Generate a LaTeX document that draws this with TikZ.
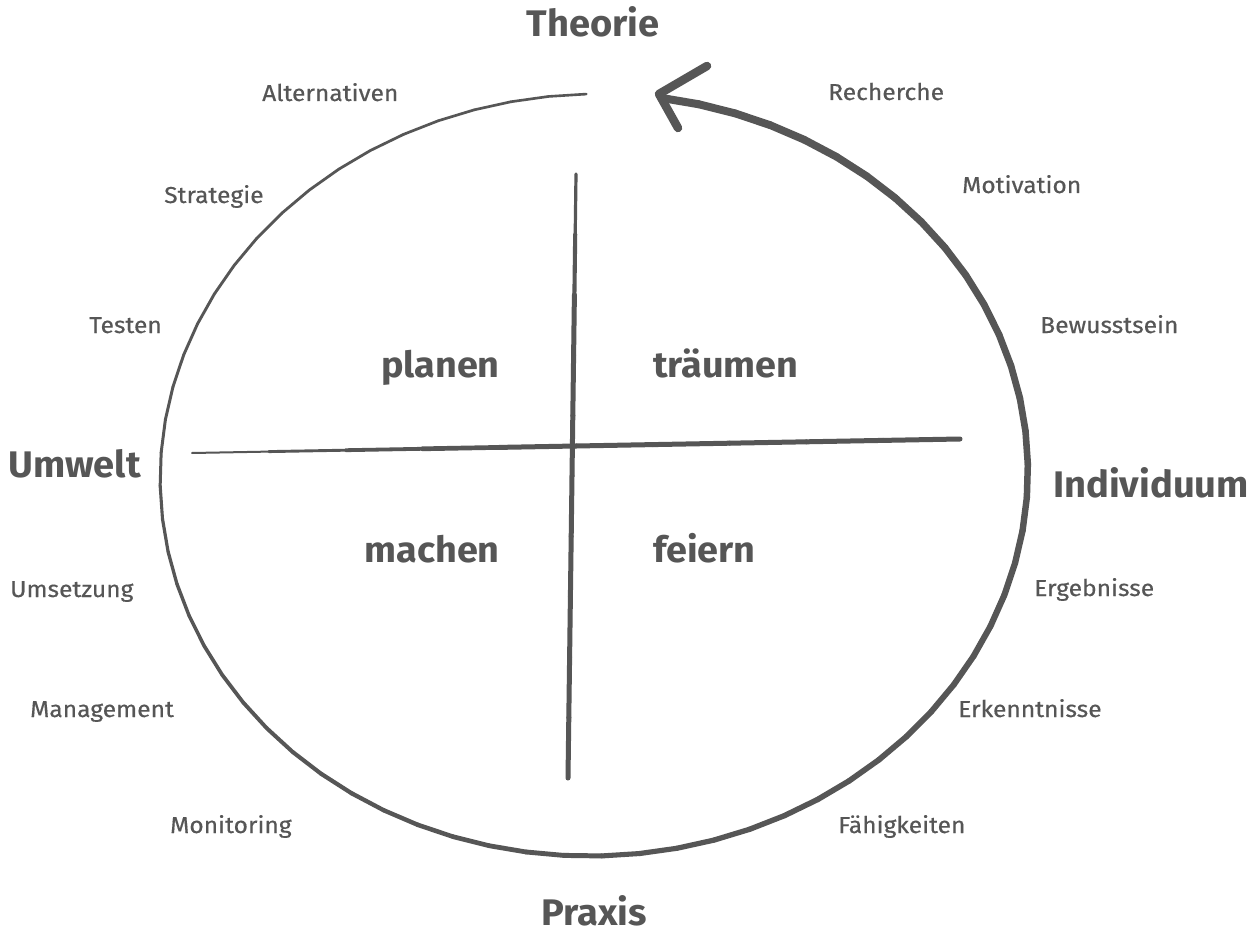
\documentclass[tikz,border=0pt]{standalone}
\usepackage{fontspec}
\setmainfont{Fira Sans}
\newfontfamily\lblfont{Fira Sans}[FakeStretch=1.07,FakeBold=0.4]
\newfontfamily\axisfont{Fira Sans}[FakeStretch=1.03]
\newfontfamily\quadfont{Fira Sans}[FakeStretch=1.05]
\usetikzlibrary{calc}
\definecolor{ink}{HTML}{565656}
\begin{document}
\begin{tikzpicture}[x=1pt,y=-1pt]
\tikzset{
  lbl/.style={text=ink, font=\lblfont\fontsize{23}{27}\selectfont, inner sep=0pt, anchor=base west},
  axislbl/.style={text=ink, font=\axisfont\bfseries\fontsize{37}{42}\selectfont, inner sep=0pt},
  quad/.style={text=ink, font=\quadfont\bfseries\fontsize{36}{42}\selectfont, inner sep=0pt},
  pen/.style={draw=ink, line cap=round, line join=round},
}
\useasboundingbox (0,0) rectangle (1260,933);
\fill[white] (0,0) rectangle (1260,933);

% hand-drawn ellipse with varying stroke width
\def\ecx{594}\def\ecy{475}\def\erx{434}\def\ery{381}\def\erot{2.3}
\foreach \t in {79,74,...,-266} {
  \pgfmathsetmacro{\u}{\t-5}
  \pgfmathsetmacro{\w}{\t>30 ? 8-(79-\t)/49 : (\t>0 ? 7-(30-\t)/60 : (\t>-90 ? 6.5-(-\t)/60 : (\t>-180 ? 5-(-90-\t)/45 : 3-(-180-\t)/227)))}
  \pgfmathsetmacro{\xa}{\ecx + \erx*cos(\t)*cos(\erot) - \ery*sin(\t)*sin(\erot)}
  \pgfmathsetmacro{\ya}{\ecy - (\erx*cos(\t)*sin(\erot) + \ery*sin(\t)*cos(\erot))}
  \pgfmathsetmacro{\xb}{\ecx + \erx*cos(\u)*cos(\erot) - \ery*sin(\u)*sin(\erot)}
  \pgfmathsetmacro{\yb}{\ecy - (\erx*cos(\u)*sin(\erot) + \ery*sin(\u)*cos(\erot))}
  \draw[pen, line width=\w pt] (\xa,\ya) -- (\xb,\yb);
}

% arrow head at the top
\coordinate (aup) at (707,66);
\coordinate (atip) at (659,94);
\coordinate (alow) at (678,128);
\draw[pen, line width=8.5pt] (aup) -- (atip) -- (alow);

% cross
\coordinate (hl) at (192,453);
\coordinate (hr) at (960,439);
\coordinate (vt) at (576,174);
\coordinate (vb) at (568,778);
\foreach \i in {0,...,9} {
  \pgfmathsetmacro{\w}{min(5,2+\i*0.9)}
  \draw[pen, line width=\w pt] ($(hl)!\i/10!(hr)$) -- ($(hl)!{(\i+1)/10}!(hr)$);
}
\foreach \i in {0,...,9} {
  \pgfmathsetmacro{\w}{min(5,3.2+\i*0.9)}
  \draw[pen, line width=\w pt] ($(vt)!\i/10!(vb)$) -- ($(vt)!{(\i+1)/10}!(vb)$);
}

% quadrant words
\node[quad, anchor=base east] (planen) at (500,377) {planen};
\node[quad, anchor=base west] (traeumen) at (653,377) {träumen};
\node[quad, anchor=base east] (machen) at (500,562) {machen};
\node[quad, anchor=base west] (feiern) at (653,562) {feiern};

% axis labels
\node[axislbl, anchor=base] (theorie) at (593,37) {Theorie};
\node[axislbl, anchor=base] (praxis) at (594,925) {Praxis};
\node[axislbl, anchor=base west] (umwelt) at (8,477) {Umwelt};
\node[axislbl, anchor=base west] (indiv) at (1053,497) {Individuum};

% small labels
\node[lbl] (alt) at (262,101) {Alternativen};
\node[lbl] (strat) at (164,203) {Strategie};
\node[lbl] (test) at (89,333) {Testen};
\node[lbl] (ums) at (10,597) {Umsetzung};
\node[lbl] (mgmt) at (30,717) {Management};
\node[lbl] (mon) at (170,833) {Monitoring};
\node[lbl] (rech) at (828,100) {Recherche};
\node[lbl] (motiv) at (962,193) {Motivation};
\node[lbl] (bew) at (1040,333) {Bewusstsein};
\node[lbl] (erg) at (1034,596) {Ergebnisse};
\node[lbl] (erk) at (958,717) {Erkenntnisse};
\node[lbl] (faeh) at (838,833) {Fähigkeiten};
\end{tikzpicture}
\end{document}
